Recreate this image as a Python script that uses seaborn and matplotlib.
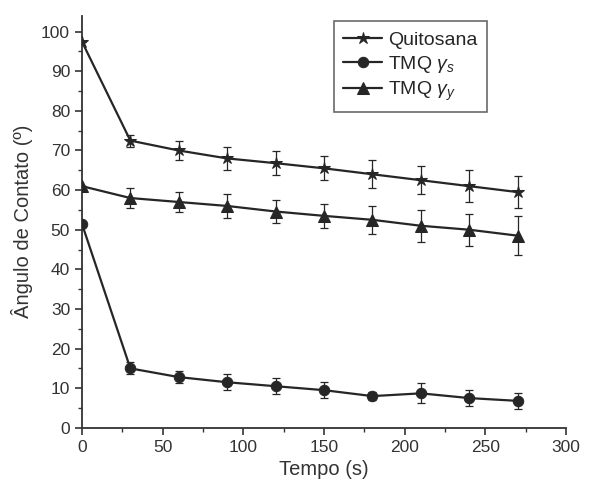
import matplotlib
matplotlib.use("Agg")
import matplotlib.pyplot as plt
import numpy as np
import pandas as pd
import seaborn as sns
from matplotlib.ticker import MultipleLocator

sns.set_theme(style="ticks")
plt.rcParams["font.family"] = ["Liberation Sans", "DejaVu Sans"]
plt.rcParams["mathtext.fontset"] = "custom"
plt.rcParams["mathtext.rm"] = "Liberation Sans"
plt.rcParams["mathtext.it"] = "Liberation Sans:italic"

# dados
tempo = [0, 30, 60, 90, 120, 150, 180, 210, 240, 270]
quitosana = [97.5, 72.5, 70, 68, 66.8, 65.5, 64, 62.5, 61, 59.5]
quitosana_err = [0, 1.5, 2.5, 3, 3, 3, 3.5, 3.5, 4, 4]
tmq_s = [51.5, 15, 12.8, 11.5, 10.5, 9.5, 8, 8.7, 7.5, 6.8]
tmq_s_err = [0, 1.5, 1.5, 2, 2, 2, 1, 2.5, 2, 2]
tmq_y = [61, 58, 57, 56, 54.6, 53.5, 52.5, 51, 50, 48.5]
tmq_y_err = [0, 2.5, 2.5, 3, 3, 3, 3.5, 4, 4, 5]

labels = ["Quitosana", r"TMQ $\gamma_s$", r"TMQ $\gamma_y$"]
markers = {"Quitosana": "*", labels[1]: "o", labels[2]: "^"}
msizes = {"Quitosana": 9, labels[1]: 7.5, labels[2]: 8}

df = pd.DataFrame({
    "Tempo": tempo * 3,
    "Angulo": quitosana + tmq_s + tmq_y,
    "Erro": quitosana_err + tmq_s_err + tmq_y_err,
    "Amostra": [labels[0]] * 10 + [labels[1]] * 10 + [labels[2]] * 10,
})

fig = plt.figure(figsize=(6.16, 4.94), dpi=100)
ax = fig.add_axes([0.133, 0.134, 0.786, 0.834])
cor = "#262626"

for nome in labels:
    d = df[df["Amostra"] == nome]
    ax.errorbar(d["Tempo"], d["Angulo"], yerr=d["Erro"], fmt="none",
                ecolor=cor, elinewidth=0.9, capsize=3, capthick=0.9, zorder=2)
    sns.lineplot(data=d, x="Tempo", y="Angulo", ax=ax, color=cor,
                 marker=markers[nome], markersize=msizes[nome],
                 markeredgecolor=cor, linewidth=1.6, label=nome, zorder=3)

ax.set_xlim(0, 300)
ax.set_ylim(0, 104)
ax.xaxis.set_major_locator(MultipleLocator(50))
ax.xaxis.set_minor_locator(MultipleLocator(25))
ax.yaxis.set_major_locator(MultipleLocator(10))
ax.yaxis.set_minor_locator(MultipleLocator(5))
ax.tick_params(which="major", direction="out", length=5, width=1.2,
               labelsize=12.5, colors="#333333")
ax.tick_params(which="minor", direction="out", length=3, width=1.0, colors="#333333")
for s in ["top", "right"]:
    ax.spines[s].set_visible(False)
for s in ["left", "bottom"]:
    ax.spines[s].set_linewidth(1.3)
    ax.spines[s].set_color("#333333")

ax.set_xlabel("Tempo (s)", fontsize=14.5, color="#333333")
ax.set_ylabel("Ângulo de Contato (º)", fontsize=14.5, color="#333333", labelpad=6)

leg = ax.legend(loc="upper left", bbox_to_anchor=(0.5, 1.01), fontsize=14,
                frameon=True, fancybox=False, edgecolor="#444444",
                handlelength=2.0, handletextpad=0.3, borderpad=0.5,
                labelspacing=0.25)
leg.get_frame().set_linewidth(1.2)

fig.savefig("out.png", dpi=100, facecolor="white")
